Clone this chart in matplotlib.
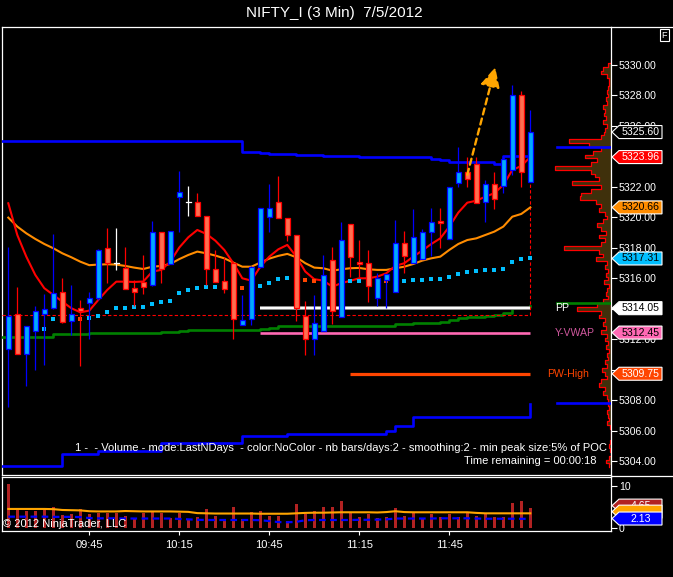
import numpy as np
import matplotlib
matplotlib.use("Agg")
import matplotlib.pyplot as plt
from matplotlib.patches import Rectangle, Polygon
from matplotlib.lines import Line2D
from matplotlib.transforms import blended_transform_factory

plt.rcParams['font.family'] = ['Liberation Sans', 'DejaVu Sans']

# ---------------- data ----------------
title = "NIFTY_I (3 Min)  7/5/2012"
time_ticks = [9, 19, 29, 39, 49]
time_labels = ["09:45", "10:15", "10:45", "11:15", "11:45"]

open_ = [5311.38, 5313.65, 5311.03, 5312.56, 5313.65, 5314.05, 5315.09, 5313.21, 5314.05, 5314.37,
         5314.70, 5318.02, 5317.00, 5316.67, 5315.36, 5315.75, 5315.55, 5319.03, 5316.95, 5321.36,
         5321.00, 5321.00, 5320.08, 5316.60, 5315.82, 5317.00, 5312.97, 5313.32, 5316.77, 5320.01,
         5321.00, 5319.95, 5318.87, 5313.52, 5312.01, 5312.56, 5317.19, 5313.48, 5319.55, 5317.08,
         5317.00, 5314.70, 5315.90, 5315.09, 5318.31, 5317.00, 5317.26, 5319.03, 5319.77, 5318.57,
         5322.24, 5322.96, 5323.49, 5321.00, 5322.18, 5322.07, 5323.11, 5328.03, 5322.35]
high = [5318.05, 5315.46, 5312.90, 5314.22, 5315.00, 5318.92, 5316.03, 5315.55, 5314.59, 5315.09,
        5317.90, 5319.31, 5319.31, 5318.05, 5315.90, 5317.54, 5319.77, 5319.03, 5319.09, 5323.05,
        5322.07, 5321.61, 5320.08, 5317.87, 5317.39, 5317.00, 5314.92, 5316.80, 5320.60, 5322.20,
        5322.72, 5319.95, 5318.87, 5314.52, 5314.92, 5317.54, 5318.05, 5319.69, 5319.55, 5318.52,
        5317.87, 5316.34, 5316.27, 5319.84, 5319.11, 5320.56, 5319.25, 5320.60, 5320.60, 5322.02,
        5324.60, 5323.99, 5323.99, 5322.46, 5322.96, 5323.99, 5328.69, 5328.30, 5327.05]
low = [5307.55, 5311.03, 5308.97, 5310.00, 5310.33, 5314.00, 5313.06, 5312.30, 5310.28, 5312.03,
       5314.60, 5315.69, 5316.58, 5315.29, 5314.22, 5314.98, 5315.50, 5315.72, 5316.95, 5319.07,
       5320.12, 5320.08, 5315.57, 5315.79, 5315.07, 5312.03, 5312.97, 5312.95, 5316.70, 5319.07,
       5319.95, 5318.48, 5313.23, 5310.98, 5310.98, 5312.56, 5313.02, 5313.48, 5316.12, 5316.12,
       5314.48, 5314.20, 5314.05, 5315.09, 5316.34, 5317.00, 5317.26, 5317.50, 5318.02, 5318.57,
       5322.02, 5322.02, 5320.93, 5319.73, 5320.56, 5321.63, 5322.79, 5322.02, 5322.35]
close = [5313.56, 5311.03, 5312.90, 5313.89, 5314.02, 5315.07, 5313.17, 5313.67, 5313.87, 5314.70,
         5317.85, 5317.00, 5317.00, 5315.29, 5315.09, 5315.42, 5319.03, 5316.62, 5319.09, 5321.65,
         5321.00, 5320.08, 5316.62, 5315.79, 5315.29, 5313.32, 5313.26, 5316.77, 5320.60, 5320.60,
         5319.95, 5318.87, 5314.05, 5312.01, 5313.10, 5316.25, 5313.87, 5318.50, 5317.43, 5316.95,
         5315.53, 5316.01, 5316.27, 5318.31, 5317.50, 5318.70, 5319.03, 5319.73, 5319.66, 5322.02,
         5323.00, 5322.52, 5320.93, 5322.18, 5321.19, 5323.82, 5328.03, 5323.00, 5325.60]

ema_fast = [5320.93, 5318.85, 5317.43, 5316.23, 5315.36, 5314.92, 5314.48, 5314.05, 5313.78, 5313.89,
            5314.59, 5315.25, 5315.79, 5315.79, 5315.77, 5315.80, 5316.45, 5316.56, 5317.10, 5318.03,
            5318.70, 5319.18, 5318.92, 5318.48, 5317.87, 5317.00, 5316.01, 5315.86, 5316.77, 5317.43,
            5317.91, 5318.20, 5317.43, 5316.45, 5315.95, 5315.86, 5315.46, 5315.69, 5315.85, 5316.01,
            5316.01, 5316.12, 5316.34, 5316.82, 5317.00, 5317.43, 5317.83, 5318.26, 5318.63, 5319.40,
            5320.32, 5320.97, 5321.10, 5321.36, 5321.59, 5322.13, 5323.11, 5323.38, 5323.96]
ema_slow = [5319.99, 5319.40, 5318.96, 5318.59, 5318.26, 5317.98, 5317.65, 5317.39, 5317.10, 5316.87,
            5316.91, 5316.93, 5316.91, 5316.82, 5316.71, 5316.62, 5316.77, 5316.82, 5316.95, 5317.27,
            5317.54, 5317.76, 5317.65, 5317.50, 5317.32, 5317.04, 5316.77, 5316.77, 5317.04, 5317.30,
            5317.48, 5317.61, 5317.39, 5317.00, 5316.71, 5316.67, 5316.51, 5316.60, 5316.67, 5316.69,
            5316.60, 5316.56, 5316.56, 5316.67, 5316.77, 5316.95, 5317.17, 5317.32, 5317.43, 5317.87,
            5318.26, 5318.52, 5318.63, 5318.85, 5319.07, 5319.40, 5320.05, 5320.23, 5320.66]
dots = [5313.06, 5312.84, 5312.67, 5312.69, 5312.70, 5313.37, 5313.38, 5313.43, 5313.37, 5313.43,
        5313.56, 5313.82, 5314.05, 5314.09, 5314.10, 5314.15, 5314.35, 5314.48, 5314.55, 5315.07,
        5315.25, 5315.40, 5315.44, 5315.44, 5315.45, 5315.40, 5315.39, 5315.41, 5315.51, 5315.70,
        5315.97, 5316.05, 5316.00, 5315.92, 5315.85, 5315.79, 5315.76, 5315.79, 5315.80, 5315.84,
        5315.85, 5315.83, 5315.82, 5315.84, 5315.86, 5315.90, 5315.91, 5315.97, 5315.98, 5316.10,
        5316.30, 5316.43, 5316.49, 5316.56, 5316.57, 5316.62, 5317.08, 5317.28, 5317.31]
green_vwap = [5312.19] * 5 + [5312.34] * 4 + [5312.45] * 8 + [5312.52] * 2 + [5312.58] + \
             [5312.64] * 8 + [5312.71] + [5312.77] + [5312.86] * 8 + [5312.91] * 5 + [5313.00] * 2 + \
             [5313.06] * 3 + [5313.15, 5313.26, 5313.39, 5313.50, 5313.50, 5313.56, 5313.63, 5313.72,
                              5314.05, 5314.15, 5314.17]
upper_band = [5325.04] * 22 + [5325.00] * 4 + [5324.31] * 2 + [5324.23] + [5324.16] * 3 + \
             [5324.10] * 3 + [5324.03] * 4 + [5323.97] * 8 + [5323.86, 5323.77] + [5323.65] * 5 + \
             [5323.50] + [5324.05] * 4
lower_band = [5303.73] * 6 + [5304.49] * 4 + [5304.71] * 7 + [5305.19] * 9 + [5305.69] * 5 + \
             [5305.80] * 11 + [5306.02] + [5306.35] * 2 + [5306.92] * 13 + [5307.75]

volume = [10.5, 4.4, 4.1, 4.1, 4.65, 4.9, 3.05, 3.3, 4.5, 3.2,
          3.45, 3.45, 3.6, 2.8, 2.0, 3.6, 4.1, 3.6, 2.25, 3.6,
          2.2, 2.5, 4.4, 2.8, 2.2, 4.9, 2.2, 3.75, 3.9, 2.8,
          2.8, 1.7, 5.7, 3.2, 3.9, 4.9, 4.9, 6.3, 3.6, 2.5,
          3.3, 2.25, 2.5, 4.65, 2.8, 3.6, 2.0, 3.3, 2.5, 3.3,
          2.5, 3.6, 2.8, 3.6, 2.5, 2.5, 6.0, 6.4, 4.65]
vol_avg = [4.5, 4.5, 4.5, 4.5, 4.5, 4.45, 4.25, 4.2, 4.15, 3.95,
           3.9, 3.9, 3.9, 4.0, 3.95, 3.9, 3.9, 3.9, 3.9, 3.85,
           3.8, 3.5, 3.45, 3.4, 3.4, 3.4, 3.4, 3.4, 3.35, 3.35,
           3.35, 3.35, 3.45, 3.55, 3.6, 3.6, 3.65, 3.7, 3.7, 3.7,
           3.7, 3.65, 3.75, 3.95, 3.75, 3.7, 3.7, 3.7, 3.7, 3.7,
           3.7, 3.7, 3.55, 3.45, 3.45, 3.45, 3.45, 3.45, 3.45]
vol_low = [2.65, 2.65, 2.65, 2.65, 2.65, 2.6, 2.6, 2.6, 2.55, 2.3,
           2.25, 2.25, 2.25, 2.2, 2.2, 2.2, 2.2, 2.2, 2.2, 2.1,
           2.0, 1.9, 1.85, 1.85, 1.85, 1.85, 1.85, 1.85, 1.8, 1.6,
           1.35, 1.3, 1.4, 1.8, 1.85, 1.85, 1.85, 1.85, 1.85, 1.9,
           1.9, 1.95, 2.0, 2.2, 2.2, 2.2, 2.2, 2.2, 2.25, 2.25,
           2.25, 2.25, 2.2, 2.15, 2.15, 2.15, 2.15, 2.13, 2.13]

# horizontal levels
pp_level, pp_start = 5314.05, 28
yvwap_level, yvwap_start = 5312.45, 28
pwhigh_level, pwhigh_start = 5309.75, 38
session_ref = 5313.59
arrow_from = (51.0, 5322.8)
arrow_to = (54.1, 5329.85)

# volume profile (price levels, top to bottom; volume in profile units)
profile_top, profile_step = 5330.25, 0.25
profile_vol = [0,
               3, 8, 10, 4, 2, 2, 3, 4, 3, 5, 4, 8, 6, 7, 5, 8, 4, 6, 7, 10,
               42, 22, 10, 18, 26, 14, 20, 56, 20, 16, 12, 39, 10, 20, 30, 31,
               15, 10, 12, 6, 4, 8, 14, 10, 5, 12, 6, 10, 47, 12, 8, 15,
               4, 6, 3, 5, 3, 7, 2, 4, 5, 3, 8, 14, 34, 10, 12, 6,
               8, 5, 10, 4, 6, 3, 5, 2, 4, 3, 6, 4, 9, 6, 4, 10,
               12, 6, 8, 4, 3, 3, 2, 4, 3, 2, 4, 1, 0, 0, 0, 1,
               2, 1, 0, 2, 5, 2]
va_high, va_low, profile_pp = 5324.64, 5307.82, 5314.36

price_ticks = list(range(5304, 5331, 2))
hidden_price_ticks = [5324, 5314, 5310]   # fully covered by value tags in the reference

# ---------------- figure ----------------
W, H = 673, 577
fig = plt.figure(figsize=(W / 100, H / 100), dpi=100, facecolor='black')


def fx(px):
    return px / W


def fy(py):
    return 1 - py / H


AX_L, AX_R = 2, 611
ax = fig.add_axes([fx(AX_L), fy(475), fx(AX_R) - fx(AX_L), fy(27) - fy(475)])
axv = fig.add_axes([fx(AX_L), fy(531), fx(AX_R) - fx(AX_L), fy(477) - fy(531)])

PX_PER_BAR = 9.0
X0_PX = 8.3
xl = (AX_L - X0_PX) / PX_PER_BAR
xr = (AX_R - X0_PX) / PX_PER_BAR
ylo, yhi = 5303.11, 5332.49
PX_PER_PT = 15.25
FS = 7.6

n = len(close)
idx = np.arange(n)

for a in (ax, axv):
    a.set_facecolor('black')
    for s in a.spines.values():
        s.set_color('white')
        s.set_linewidth(0.9)


def step_line(vals, **kw):
    xs = np.concatenate([[xl], idx])
    ys = np.concatenate([[vals[0]], vals])
    ax.plot(xs, ys, drawstyle='steps-post', **kw)


step_line(upper_band, color='#0000ff', lw=1.9, zorder=3)
step_line(lower_band, color='#0000ff', lw=1.9, zorder=3)
step_line(green_vwap, color='#008000', lw=1.9, zorder=3)

# session reference dashed line
ax.plot([xl, n - 1, n - 1], [session_ref, session_ref, open_[-1]], color='#ff0000', lw=0.8,
        dashes=(3, 2), zorder=3)

# level lines
ax.plot([pp_start, n - 1], [pp_level] * 2, color='#909090', lw=2.8, solid_capstyle='butt', zorder=3)
ax.plot([pp_start, n - 1], [pp_level] * 2, color='white', lw=1.4, solid_capstyle='butt', zorder=3.1)
ax.plot([yvwap_start, n - 1], [yvwap_level] * 2, color='#ff69b4', lw=1.9, solid_capstyle='butt', zorder=3)
ax.plot([pwhigh_start, n - 1], [pwhigh_level] * 2, color='#ff4500', lw=2.3, solid_capstyle='butt', zorder=3)

# moving averages
ax.plot(idx, ema_slow, color='#ff8c00', lw=1.5, zorder=4)
ax.plot(idx, ema_fast, color='#ff0000', lw=1.5, zorder=4)

# dotted indicator squares
dots_arr = np.array(dots)
falling = np.concatenate([[False], dots_arr[1:] < dots_arr[:-1]])
ax.scatter(idx[~falling], dots_arr[~falling], marker='s', s=11, c='#00bfff', lw=0, zorder=4.5)
ax.scatter(idx[falling], dots_arr[falling], marker='s', s=11, c='#ff4500', lw=0, zorder=4.5)

# candles
BW = 0.27
for i in range(n):
    o, h, l, c = open_[i], high[i], low[i], close[i]
    if c > o:
        fc, ec = '#00aaff', '#0000ff'
    elif c < o:
        fc, ec = '#ff6e50', '#ff0000'
    else:
        fc, ec = 'white', 'white'
    ax.plot([i, i], [l, h], color=ec, lw=0.9, zorder=6, solid_capstyle='butt')
    if c == o:
        ax.plot([i - BW, i + BW], [c, c], color='white', lw=0.9, zorder=7)
    else:
        ax.add_patch(Rectangle((i - BW, min(o, c)), 2 * BW, abs(c - o), fc=fc, ec=ec, lw=0.9, zorder=7))

# arrow
ax.annotate('', xy=arrow_to, xytext=arrow_from,
            arrowprops=dict(arrowstyle='-|>,head_length=0.85,head_width=0.42', color='#ffa500',
                            lw=1.7, linestyle=(0, (2.6, 1.8)), mutation_scale=14,
                            shrinkA=0, shrinkB=0), zorder=8)

# volume profile
pv = np.array(profile_vol, dtype=float)
pp_prices = profile_top - profile_step * np.arange(len(pv))
left = xr - pv / PX_PER_BAR
ax.fill_betweenx(pp_prices, left, xr, step='mid', color='#3f300b', lw=0, zorder=2)
ey = np.column_stack([pp_prices + profile_step / 2, pp_prices - profile_step / 2]).ravel()
ex = np.repeat(left, 2)
ax.plot(ex, ey, color='#ff0000', lw=0.9, zorder=2.5)
px_profile_left = (557 - X0_PX) / PX_PER_BAR
ax.plot([px_profile_left, xr], [va_high] * 2, color='#0000ff', lw=1.9, zorder=2.6)
ax.plot([px_profile_left, xr], [va_low] * 2, color='#0000ff', lw=1.9, zorder=2.6)
ax.plot([px_profile_left, xr], [profile_pp] * 2, color='#008000', lw=1.9, zorder=2.6)

# axes formatting
ax.set_xlim(xl, xr)
ax.set_ylim(ylo, yhi)
ax.set_xticks([])
ax.set_yticks(price_ticks)
ax.set_yticklabels(["" if v in hidden_price_ticks else f"{v:.2f}" for v in price_ticks])
ax.tick_params(axis='y', left=False, right=True, labelleft=False, labelright=True,
               colors='white', length=4.3, width=0.8, pad=1.5, labelsize=FS)

tr_main = blended_transform_factory(ax.transAxes, ax.transData)
AXW = AX_R - AX_L


def afx(px):
    return (px - AX_L) / AXW


def tag(a, y, label, fc, tc, half_h, ec='white', z=20):
    tr = blended_transform_factory(a.transAxes, a.transData)
    x0, x1, x2 = afx(612), afx(619), afx(662)
    a.add_patch(Polygon([[x0, y], [x1, y + half_h], [x2, y + half_h], [x2, y - half_h], [x1, y - half_h]],
                        closed=True, transform=tr, fc=fc, ec=ec, lw=0.8, clip_on=False, zorder=z))
    if label:
        a.text(afx(641), y, label, transform=tr, ha='center', va='center', color=tc, fontsize=FS,
               clip_on=False, zorder=z + 0.5)


hh = 6.5 / PX_PER_PT
tag(ax, close[-1], f"{close[-1]:.2f}", 'black', 'white', hh)
tag(ax, ema_fast[-1], f"{ema_fast[-1]:.2f}", '#ff0000', 'white', hh)
tag(ax, ema_slow[-1], f"{ema_slow[-1]:.2f}", '#ff8c00', 'black', hh)
tag(ax, dots[-1], f"{dots[-1]:.2f}", '#00bfff', 'black', hh)
tag(ax, pp_level, f"{pp_level:.2f}", 'white', 'black', hh)
tag(ax, yvwap_level, f"{yvwap_level:.2f}", '#ff69b4', 'black', hh)
tag(ax, pwhigh_level, f"{pwhigh_level:.2f}", '#ff4500', 'white', hh)

ax.text(afx(555), pp_level, 'PP', transform=tr_main, color='white', fontsize=FS, va='center', ha='left', zorder=9)
ax.text(afx(555), yvwap_level, 'Y-VWAP', transform=tr_main, color='#d0589e', fontsize=FS, va='center', ha='left', zorder=9)
ax.text(afx(547), pwhigh_level, 'PW-High', transform=tr_main, color='#ff4500', fontsize=FS, va='center', ha='left', zorder=9)

# volume panel
axv.bar(idx, volume, width=0.36, color='#b22222', zorder=3)
axv.plot(idx, vol_avg, color='#ffa500', lw=1.5, zorder=4)
axv.plot(idx, vol_low, color='#0000ff', lw=1.6, dashes=(3, 2), zorder=4)
axv.set_xlim(xl, xr)
axv.set_ylim(-0.79, 12.16)
axv.set_yticks([0, 10])
axv.set_yticklabels(['0', '10'])
axv.set_xticks(time_ticks)
axv.set_xticklabels(time_labels)
axv.tick_params(axis='y', left=False, right=True, labelleft=False, labelright=True,
                colors='white', length=4.3, width=0.8, pad=1.5, labelsize=FS)
axv.tick_params(axis='x', colors='white', length=3, width=0.8, pad=3.5, labelsize=8)
vh = 6.5 / 4.17
tag(axv, 5.3, f"{volume[-1]:.2f}", '#b22222', 'white', vh)
tag(axv, 3.85, None, '#ffa500', 'black', vh, z=21)        # its value is hidden under the blue tag
tag(axv, 2.2, f"{vol_low[-1]:.2f}", '#0000ff', 'white', vh, z=22)

# frame pieces outside the axes
for yy in (27, 475.5):
    fig.add_artist(Line2D([fx(611), fx(672)], [fy(yy), fy(yy)], color='white', lw=0.9))

# texts
fig.text(fx(334), fy(13), title, ha='center', va='center', color='white', fontsize=11)
fig.text(fx(664.5), fy(35), 'F', ha='center', va='center', color='white', fontsize=6.5,
         bbox=dict(boxstyle='square,pad=0.2', fc='black', ec='white', lw=0.8))
fig.text(fx(607), fy(448), '1 -  - Volume - mode:LastNDays  - color:NoColor - nb bars/days:2 - '
         'smoothing:2 - min peak size:5% of POC', ha='right', va='center', color='white', fontsize=8.0)
fig.text(fx(596), fy(461.5), 'Time remaining = 00:00:18', ha='right', va='center', color='white', fontsize=8.0)
fig.text(fx(3), fy(524), '\u00a9 2012 NinjaTrader, LLC', ha='left', va='center', color='white', fontsize=8.0)

fig.savefig('out.png', dpi=100, facecolor='black')
